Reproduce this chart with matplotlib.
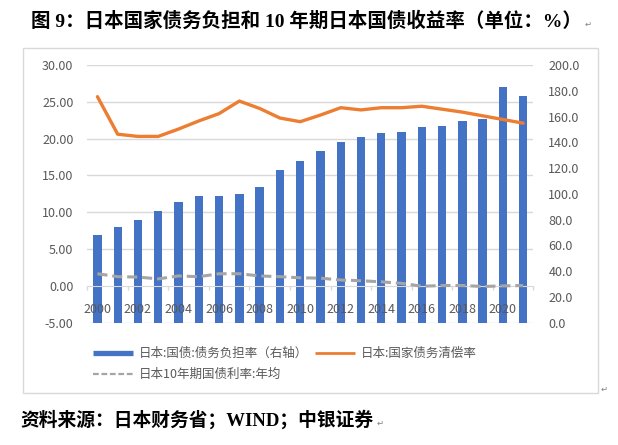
import numpy as np
import matplotlib
matplotlib.use("Agg")
import matplotlib.pyplot as plt
from matplotlib.lines import Line2D
from matplotlib.patches import Rectangle
from matplotlib.ticker import FixedLocator

plt.rcParams['font.family'] = ['Noto Sans CJK SC', 'DejaVu Sans']

years = list(range(2000, 2022))
# 日本:国债:债务负担率（右轴）
debt_burden = [68.1, 74.3, 79.7, 86.7, 93.7, 98.3, 98.3, 99.9, 105.3, 118.5, 125.5,
               133.3, 140.3, 144.1, 147.2, 148.0, 151.9, 152.7, 156.6, 158.1, 183.0, 176.0]
# 日本:国家债务清偿率
debt_service = [25.7, 20.6, 20.3, 20.3, 21.3, 22.4, 23.4, 25.1, 24.1, 22.8, 22.3,
                23.2, 24.2, 23.9, 24.2, 24.2, 24.4, 24.0, 23.6, 23.1, 22.6, 22.1]
# 日本10年期国债利率:年均
jgb10y = [1.65, 1.25, 1.2, 0.95, 1.35, 1.25, 1.65, 1.65, 1.35, 1.25, 1.1,
          1.05, 0.8, 0.7, 0.55, 0.35, -0.05, 0.05, 0.05, -0.08, 0.0, 0.05]

left_ticks = [-5, 0, 5, 10, 15, 20, 25, 30]
right_ticks = [0, 20, 40, 60, 80, 100, 120, 140, 160, 180, 200]

label_bar = '日本:国债:债务负担率（右轴）'
label_service = '日本:国家债务清偿率'
label_jgb = '日本10年期国债利率:年均'
title = '图 9：日本国家债务负担和 10 年期日本国债收益率（单位：%）'
source = '资料来源：日本财务省；WIND；中银证券'

BLUE = '#4472C4'
ORANGE = '#ED7D31'
GRAY = '#A5A5A5'
GRID = '#D9D9D9'
TXT = '#595959'

W, H = 618, 445
fig = plt.figure(figsize=(W / 100, H / 100), dpi=100)

# frame around chart
fig.patches.append(Rectangle((23.3 / W, 1 - 392.7 / H), (598.3 - 23.3) / W, (392.7 - 48.3) / H,
                             transform=fig.transFigure, fill=False, edgecolor=GRID, lw=1))

ax = fig.add_axes([87.3 / W, 1 - 322.7 / H, (533.3 - 87.3) / W, (322.7 - 65) / H])
x = np.arange(len(years))
ax.bar(x, debt_burden, width=0.41, color=BLUE, zorder=1)
ax.set_xlim(-0.5, len(years) - 0.5)
ax.set_ylim(right_ticks[0], right_ticks[-1])

lmin, lmax = left_ticks[0], left_ticks[-1]
rmin, rmax = right_ticks[0], right_ticks[-1]
to_right = lambda v: rmin + (v - lmin) * (rmax - rmin) / (lmax - lmin)
for v in left_ticks:
    if v != 0:
        ax.axhline(to_right(v), color=GRID, lw=1, zorder=0.5)

ax2 = ax.twinx()
ax2.set_ylim(lmin, lmax)
ax2.plot(x, debt_service, color=ORANGE, lw=2.4, zorder=3, solid_capstyle='round')
ax2.plot(x, jgb10y, color=GRAY, lw=2.2, dashes=(3.3, 1.6), zorder=3)

# right axis on bars
ax.yaxis.tick_right()
ax.set_yticks(right_ticks)
ax.set_yticklabels([f'{v:.1f}' for v in right_ticks])
ax.tick_params(axis='y', length=0, pad=10.8, labelsize=9, labelcolor=TXT)

# left axis on lines
ax2.yaxis.tick_left()
ax2.set_yticks(left_ticks)
ax2.set_yticklabels([f'{v:.2f}' for v in left_ticks])
ax2.tick_params(axis='y', length=0, pad=10, labelsize=9, labelcolor=TXT)

for a in (ax, ax2):
    for s in ('top', 'left', 'right'):
        a.spines[s].set_visible(False)
ax2.spines['bottom'].set_visible(False)
ax.spines['bottom'].set_position(('data', to_right(0)))
ax.spines['bottom'].set_color(GRID)
ax.spines['bottom'].set_zorder(2.5)

ax.set_xticks(x[::2])
ax.set_xticklabels([str(y) for y in years[::2]])
ax.xaxis.set_minor_locator(FixedLocator(np.arange(-0.5, len(years), 2)))
ax.tick_params(axis='x', which='major', length=0, pad=12.5, labelsize=9, labelcolor=TXT)
ax.tick_params(axis='x', which='minor', length=3, color=GRID, width=1)

handles = [Line2D([], [], color=BLUE, lw=3.8, solid_capstyle='butt'),
           Line2D([], [], color=GRAY, lw=1.6, dashes=(2.6, 1.2)),
           Line2D([], [], color=ORANGE, lw=2.0, solid_capstyle='butt')]
fig.legend(handles, [label_bar, label_jgb, label_service], ncol=2, loc='upper left',
           bbox_to_anchor=(93 / W, 1 - 347 / H), frameon=False, fontsize=9,
           labelcolor=TXT, borderpad=0, borderaxespad=0, handlelength=3.2,
           handletextpad=0.45, columnspacing=0.6, labelspacing=0.65)

t1 = fig.text(31 / W, 1 - 21 / H, title, fontsize=14, fontweight='bold', ha='left', va='center',
              family=['Liberation Serif', 'Noto Sans CJK SC'], color='black')
t2 = fig.text(20 / W, 1 - 420 / H, source, fontsize=13.5, fontweight='bold', ha='left', va='center',
              family=['Liberation Serif', 'Noto Sans CJK SC'], color='black')

fig.canvas.draw()
r = fig.canvas.get_renderer()
marks = []
for t in (t1, t2):
    bb = t.get_window_extent(r)
    marks.append((bb.x1 + 3, (bb.y0 + bb.y1) / 2 - 3))
marks.append((601, H - 389))
for (px, py) in marks:
    fig.text(px / W, py / H, '\u21b5', fontsize=6, color='#808080', ha='left', va='center',
             family=['DejaVu Sans'])

fig.savefig('out.png', dpi=100)
